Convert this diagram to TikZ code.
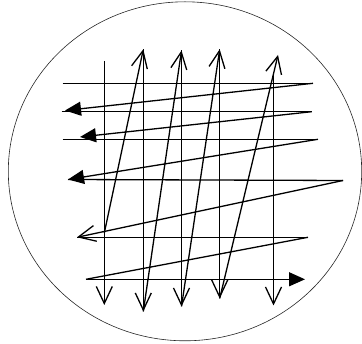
\documentclass[tikz,border=0pt]{standalone}
\usetikzlibrary{arrows.meta}

\begin{document}
\begin{tikzpicture}[
    x=1pt, y=-1pt,
    gridline/.style={line width=1.3pt},
    openhead/.style={gridline, -{Straight Barb[length=17pt,width=16pt]}},
    fullhead/.style={gridline, -{Triangle[length=16pt,width=14pt]}},
    rim/.style={draw=black!85, line width=0.6pt}
]
    \useasboundingbox (0,0) rectangle (362,344);
    \draw[rim] (185,171.3) ellipse [x radius=176.7pt, y radius=169.5pt];

    % rows: west and east ends
    \coordinate (row1w) at (62.7,83.3);   \coordinate (row1e) at (313,83.3);
    \coordinate (row2w) at (61.7,111.7);  \coordinate (row2e) at (311.7,111.7);
    \coordinate (row3w) at (62.7,139.3);  \coordinate (row3e) at (318,139.3);
    \coordinate (row4w) at (68,179.5);    \coordinate (row4e) at (343,180.5);
    \coordinate (row5w) at (77,237.3);    \coordinate (row5e) at (308,237.3);
    \coordinate (row6w) at (86,279.3);    \coordinate (row6e) at (305,279.3);
    \coordinate (tip2) at (65,110.5);
    \coordinate (tip3) at (80,137);

    % columns: north and south ends
    \coordinate (col1n) at (104.3,61);    \coordinate (col1s) at (104.3,305);
    \coordinate (col2n) at (143.3,49.3);  \coordinate (col2s) at (143.3,311.5);
    \coordinate (col3n) at (181.5,50.5);  \coordinate (col3s) at (181.5,306.5);
    \coordinate (col4n) at (219.7,49.3);  \coordinate (col4s) at (219.7,298.5);
    \coordinate (col5n) at (273.5,73);    \coordinate (col5s) at (273.5,305.5);
    \coordinate (col1m) at (104.3,233);
    \coordinate (tip5) at (278,55);

    % horizontal scan
    \draw[gridline] (row1w) -- (row1e);
    \draw[gridline] (row2w) -- (row2e);
    \draw[gridline] (row3w) -- (row3e);
    \draw[gridline] (row4w) -- (row4e);
    \draw[gridline] (row5w) -- (row5e);
    \draw[fullhead] (row6w) -- (row6e);
    \draw[fullhead] (row1e) -- (tip2);
    \draw[fullhead] (row2e) -- (tip3);
    \draw[fullhead] (row3e) -- (row4w);
    \draw[openhead] (row4e) -- (row5w);
    \draw[gridline] (row5e) -- (row6w);

    % vertical scan
    \draw[openhead] (col1n) -- (col1s);
    \draw[openhead] (col2n) -- (col2s);
    \draw[openhead] (col3n) -- (col3s);
    \draw[openhead] (col4n) -- (col4s);
    \draw[openhead] (col5n) -- (col5s);
    \draw[openhead] (col1m) -- (col2n);
    \draw[openhead] (col2s) -- (col3n);
    \draw[openhead] (col3s) -- (col4n);
    \draw[openhead] (col4s) -- (tip5);
\end{tikzpicture}
\end{document}
